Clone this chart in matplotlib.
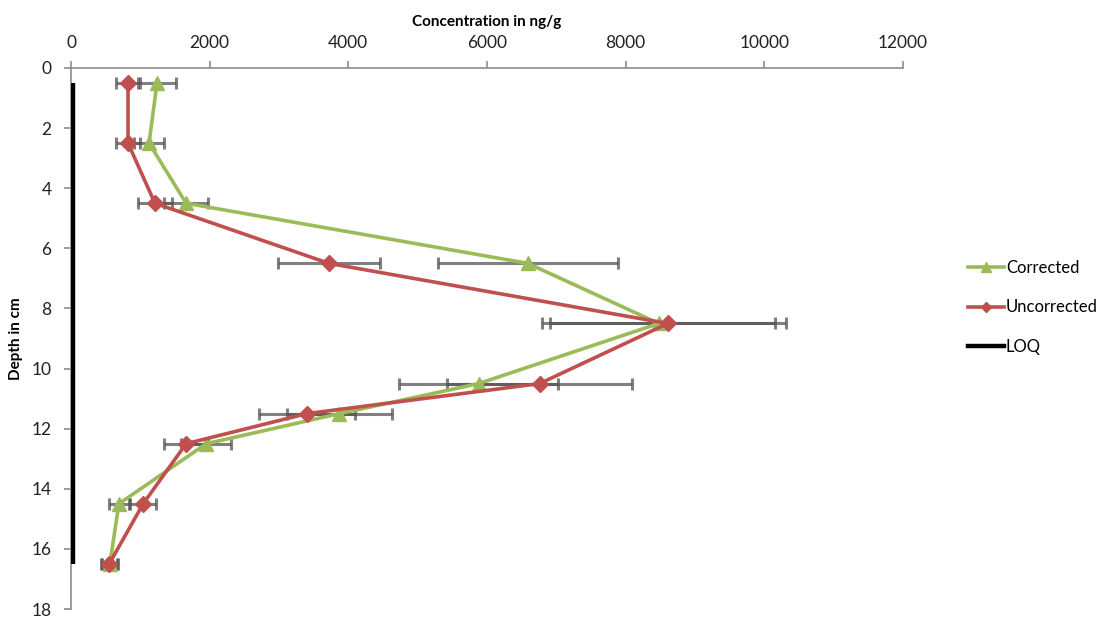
import matplotlib.pyplot as plt
from matplotlib.lines import Line2D

plt.rcParams['font.family'] = ['Lato', 'DejaVu Sans']

# depth of each slice midpoint (cm)
depth = [0.5, 2.5, 4.5, 6.5, 8.5, 10.5, 11.5, 12.5, 14.5, 16.5]

# concentrations (ng/g) and their standard deviations
corrected = [1240, 1125, 1660, 6590, 8480, 5880, 3870, 1950, 690, 560]
corrected_err = [270, 215, 317, 1300, 1680, 1150, 760, 360, 145, 120]
uncorrected = [822, 822, 1210, 3720, 8610, 6760, 3400, 1660, 1040, 550]
uncorrected_err = [175, 175, 245, 740, 1700, 1340, 690, 320, 190, 120]

# limit of quantification over the sampled depth range
loq_value = 35
loq_depth = [0.5, 16.5]

green = '#9BBB59'
red = '#C0504D'
axis_grey = '#8c8c8c'

fig = plt.figure(figsize=(11.05, 6.21), dpi=100)
ax = fig.add_axes([0.0643, 0.0193, 0.7527, 0.8712])

err_style = dict(fmt='none', ecolor='#555555', elinewidth=2.2, capsize=4,
                 capthick=2.2, alpha=0.75, zorder=2)
ax.errorbar(corrected, depth, xerr=corrected_err, **err_style)
ax.errorbar(uncorrected, depth, xerr=uncorrected_err, **err_style)

ax.plot([loq_value, loq_value], loq_depth, color='black', lw=3.2, zorder=3,
        solid_capstyle='butt')
ax.plot(corrected, depth, color=green, lw=2.6, marker='^', ms=10,
        zorder=4)
ax.plot(uncorrected, depth, color=red, lw=2.6, marker='D', ms=8,
        zorder=5)

ax.set_xlim(0, 12000)
ax.set_ylim(18, 0)
ax.set_xticks(range(0, 12001, 2000))
ax.set_yticks(range(0, 19, 2))

ax.xaxis.tick_top()
ax.xaxis.set_label_position('top')
for side in ['right', 'bottom']:
    ax.spines[side].set_visible(False)
for side in ['left', 'top']:
    ax.spines[side].set_color(axis_grey)
    ax.spines[side].set_linewidth(1.2)
ax.tick_params(axis='both', colors=axis_grey, labelcolor='#222222',
               labelsize=12.5, length=5, width=1.2, direction='out')
ax.tick_params(axis='x', pad=7)
ax.tick_params(axis='y', pad=9)

ax.set_xlabel('Concentration in ng/g', fontsize=11, fontweight='bold',
              labelpad=7)
ax.set_ylabel('Depth in cm', fontsize=11, fontweight='bold', labelpad=6)

handles = [
    Line2D([], [], color=green, lw=2.6, marker='^', ms=7),
    Line2D([], [], color=red, lw=2.6, marker='D', ms=5),
    Line2D([], [], color='black', lw=3.2),
]
fig.legend(handles, ['Corrected', 'Uncorrected', 'LOQ'],
           loc='center left', bbox_to_anchor=(0.862, 0.505),
           frameon=False, fontsize=12, handlelength=2.2, handletextpad=0.1,
           labelspacing=1.4)

fig.savefig('out.png', dpi=100)
